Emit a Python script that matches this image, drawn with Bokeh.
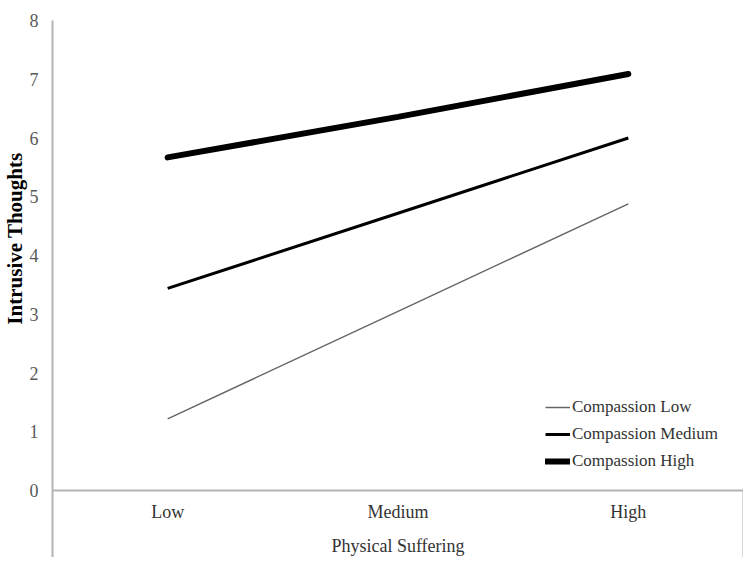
from bokeh.plotting import figure
from bokeh.models import (ColumnDataSource, FactorRange, Range1d, FixedTicker, Span,
                          Legend, LegendItem, Title)
from bokeh.transform import dodge
from bokeh.core.properties import value
from bokeh.embed import file_html
from bokeh.resources import INLINE

categories = ["Low", "Medium", "High"]
compassion_low = [1.22, 3.05, 4.88]
compassion_medium = [3.44, 4.72, 6.0]
compassion_high = [5.67, 6.36, 7.09]
y_ticks = [0, 1, 2, 3, 4, 5, 6, 7, 8]
x_title = "Physical Suffering"
y_title = "Intrusive Thoughts"

FONT = "Liberation Serif"
GREY = "#595959"
AXIS = "#b3b3b3"

p = figure(width=743, height=557, output_backend="svg", toolbar_location=None,
           x_range=FactorRange(*categories, range_padding=0),
           y_range=Range1d(-1.14, 8.0),
           x_axis_location=None,
           min_border_left=50, min_border_right=0, min_border_top=20, min_border_bottom=0)
p.outline_line_color = None
p.grid.visible = False
p.background_fill_color = "white"

ya = p.yaxis[0]
ya.ticker = FixedTicker(ticks=y_ticks)
ya.major_tick_line_color = None
ya.minor_tick_line_color = None
ya.axis_line_color = AXIS
ya.axis_line_width = 2
ya.major_label_text_font = FONT
ya.major_label_text_font_size = "18px"
ya.major_label_text_color = GREY
ya.major_label_standoff = 8

p.add_layout(Title(text=y_title, align="right", offset=132, standoff=0,
                   text_font=FONT, text_font_size="21px", text_font_style="bold",
                   text_color="black"), "left")

p.add_layout(Span(location=0, dimension="width", line_color=AXIS, line_width=2))

edge = ColumnDataSource(dict(x=[categories[-1]], y0=[p.y_range.start], y1=[0]))
p.segment(x0=dodge("x", 0.5, range=p.x_range), y0="y0",
          x1=dodge("x", 0.5, range=p.x_range), y1="y1",
          source=edge, line_color=AXIS, line_width=2)

lab_src = ColumnDataSource(dict(x=categories, y=[-0.37] * len(categories)))
p.text(x="x", y="y", text="x", source=lab_src, text_font=value(FONT),
       text_font_size="18px", text_color="#333333", text_align="center",
       text_baseline="middle")
p.text(x=[categories[1]], y=[-0.94], text=[x_title], text_font=value(FONT),
       text_font_size="18px", text_color="#333333", text_align="center",
       text_baseline="middle")

r_low = p.line(categories, compassion_low, line_color="#666666", line_width=1.5)
r_med = p.line(categories, compassion_medium, line_color="black", line_width=3)
r_high = p.line(categories, compassion_high, line_color="black", line_width=6,
                line_cap="round")

legend = Legend(items=[LegendItem(label="Compassion Low", renderers=[r_low]),
                       LegendItem(label="Compassion Medium", renderers=[r_med]),
                       LegendItem(label="Compassion High", renderers=[r_high])],
                location=(493, 86), glyph_width=25, glyph_height=20,
                label_height=20, spacing=7, label_standoff=2, padding=0, margin=0,
                border_line_color=None, background_fill_alpha=0,
                label_text_font=FONT, label_text_font_size="17px",
                label_text_color="#333333")
p.add_layout(legend)

open("out.html", "w").write(file_html(p, INLINE))
